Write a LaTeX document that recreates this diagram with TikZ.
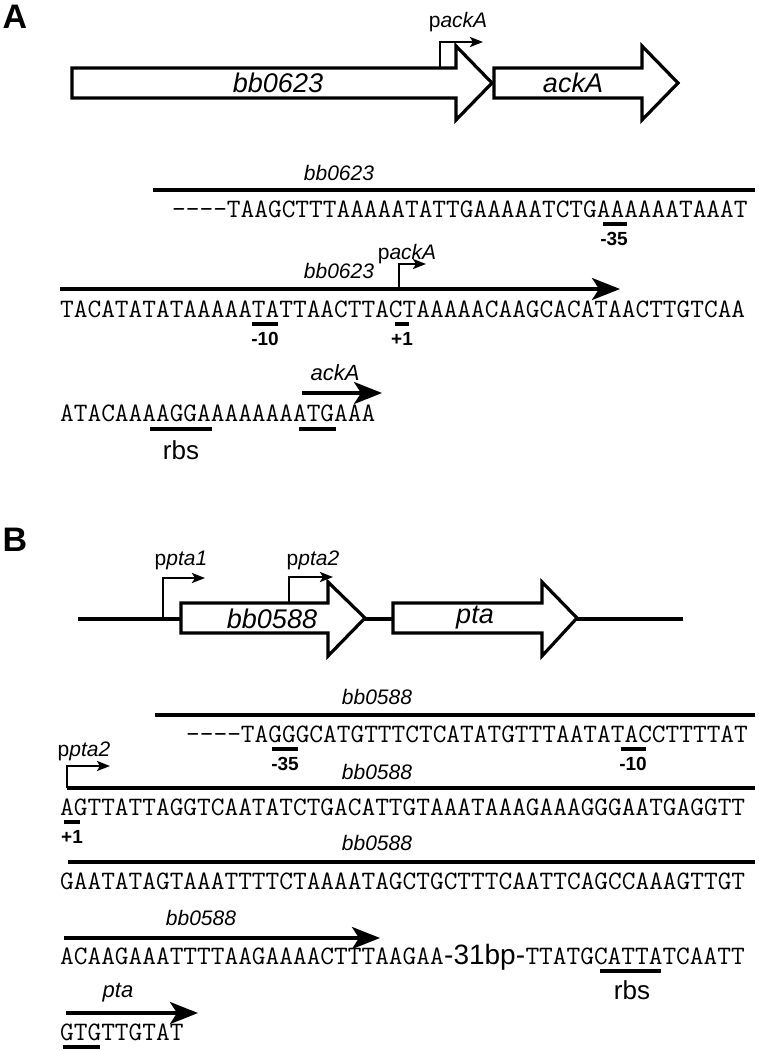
\documentclass[tikz,border=0pt]{standalone}
\usepackage{fontspec}
\setmainfont{Liberation Sans}
\usetikzlibrary{arrows.meta}
\tikzset{
    gene/.style={draw, line width=3.2pt, fill=white, line join=miter},
    seqline/.style={line width=3.5pt},
    seqarrow/.style={line width=3.5pt, -{Stealth[length=28pt, width=22pt, inset=7pt]}},
    prom/.style={line width=2.8pt, -{Stealth[length=13pt, width=10pt, inset=3pt]}},
    ubar/.style={line width=3.5pt},
    dna/.style={font=\fontsize{26.6}{30}\selectfont\ttfamily, inner sep=0pt, anchor=base west},
    seqlab/.style={font=\fontsize{21}{24}\selectfont\itshape, inner sep=0pt},
    genelab/.style={font=\fontsize{27}{30}\selectfont\itshape, inner sep=0pt},
    site/.style={font=\fontsize{19}{21}\selectfont\bfseries, inner sep=0pt},
    rbslab/.style={font=\fontsize{26}{30}\selectfont, inner sep=0pt},
    panel/.style={font=\fontsize{34}{36}\selectfont\bfseries, inner sep=0pt}
}
\begin{document}
\begin{tikzpicture}[x=1pt, y=-1pt]
\useasboundingbox (0,0) rectangle (761,1051);

\node[panel] (panA) at (15,17) {A};
\foreach \xa/\xb/\xc/\yc in {72/456/492/83, 494/642/678/83}
{
    \draw[gene] (\xa,\yc-15) -- (\xb,\yc-15) -- (\xb,\yc-37) -- (\xc,\yc) -- (\xb,\yc+37) -- (\xb,\yc+15) -- (\xa,\yc+15) -- cycle;
}
\draw[prom] (440,68) |- (483,42);
\node[seqlab, anchor=base] (prAckA) at (458,28) {{\upshape p}ackA};
\node[genelab] (g0623) at (278,83) {bb0623};
\node[genelab] (gAckA) at (573,83) {ackA};

\node[seqlab] (lA1) at (339,173) {bb0623};
\draw[seqline] (153,190) -- (755,190);
\node[dna] (seqA1) at (172,217) {----TAAGCTTTAAAAATATTGAAAAATCTGAAAAAATAAAT};
\draw[ubar] (603,224) -- (627,224);
\node[site] (sA35) at (614,239) {-35};

\node[seqlab] (lA2) at (339,271) {bb0623};
\draw[seqarrow] (60,289) -- (620,289);
\draw[prom] (399,289) |- (426,264);
\node[seqlab, anchor=base] (prAckA2) at (407,259) {{\upshape p}ackA};
\node[dna] (seqA2) at (60,317) {TACATATATAAAAATATTAACTTACTAAAAACAAGCACATAACTTGTCAA};
\draw[ubar] (252,324) -- (278,324);
\draw[ubar] (395,324) -- (409,324);
\node[site] (sA10) at (265,339) {-10};
\node[site] (sA1) at (402,339) {+1};

\node[genelab, font=\fontsize{22}{24}\selectfont\itshape] (lA3) at (335,373) {ackA};
\draw[seqarrow] (302,393) -- (382,393);
\node[dna] (seqA3) at (60,421) {ATACAAAAGGAAAAAAAATGAAA};
\draw[ubar] (150,429) -- (212,429);
\draw[ubar] (299,429) -- (336,429);
\node[rbslab] (rbsA) at (181,450) {rbs};

\node[panel] (panB) at (15,540) {B};
\draw[line width=3.2pt] (78,619) -- (683,619);
\foreach \xa/\xb/\xc/\yc in {181/328/365/618, 393/542/577/618}
{
    \draw[gene] (\xa,\yc-15) -- (\xb,\yc-15) -- (\xb,\yc-36) -- (\xc,\yc) -- (\xb,\yc+38) -- (\xb,\yc+15) -- (\xa,\yc+15) -- cycle;
}
\draw[prom] (163,619) |- (205,578);
\draw[prom] (289,603) |- (333,577);
\node[seqlab, anchor=base] (prPta1) at (181,565) {{\upshape p}pta1};
\node[seqlab, anchor=base] (prPta2) at (313,565) {{\upshape p}pta2};
\node[genelab] (g0588) at (272,619) {bb0588};
\node[genelab] (gPta) at (475,618) {pta};

\node[seqlab] (lB1) at (377,697) {bb0588};
\draw[seqline] (155,715) -- (755,715);
\node[dna] (seqB1) at (186,742) {----TAGGGCATGTTTCTCATATGTTTAATATACCTTTTAT};
\draw[ubar] (272,749) -- (298,749);
\draw[ubar] (621,749) -- (646,749);
\node[site] (sB35) at (285,764) {-35};
\node[site] (sB10) at (633,764) {-10};

\node[seqlab, anchor=base] (prPta2b) at (84,756) {{\upshape p}pta2};
\node[seqlab] (lB2) at (377,772) {bb0588};
\draw[seqline] (67,788) -- (755,788);
\draw[prom] (67,788) |- (110,766);
\node[dna] (seqB2) at (60,815) {AGTTATTAGGTCAATATCTGACATTGTAAATAAAGAAAGGGAATGAGGTT};
\draw[ubar] (64,822) -- (80,822);
\node[site] (sB1) at (72,837) {+1};

\node[seqlab] (lB3) at (377,843) {bb0588};
\draw[seqline] (68,862) -- (755,862);
\node[dna] (seqB3) at (60,889) {GAATATAGTAAATTTTCTAAAATAGCTGCTTTCAATTCAGCCAAAGTTGT};

\node[seqlab] (lB4) at (201,918) {bb0588};
\draw[seqarrow] (64,938) -- (380,938);
\node[dna] (seqB4) at (60,964) {ACAAGAAATTTTAAGAAAACTTTAAGAA};
\node[rbslab, anchor=base west, font=\fontsize{28}{30}\selectfont] (gapB4) at (seqB4.base east) {-31bp-};
\node[dna] (seqB4b) at (gapB4.base east) {TTATGCATTATCAATT};
\draw[ubar] (600,971) -- (661,971);
\node[rbslab] (rbsB) at (632,990) {rbs};

\node[genelab, font=\fontsize{22}{24}\selectfont\itshape] (lB5) at (118,993) {pta};
\draw[seqarrow] (66,1013) -- (198,1013);
\node[dna] (seqB5) at (60,1040) {GTGTTGTAT};
\draw[ubar] (63,1047) -- (100,1047);
\end{tikzpicture}
\end{document}
